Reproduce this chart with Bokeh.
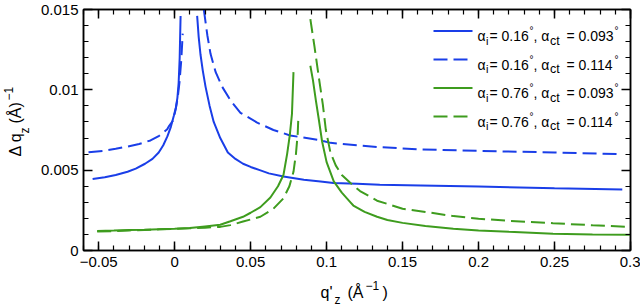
import math
from bokeh.plotting import figure
from bokeh.models import Range1d, FixedTicker, LinearAxis, Label
from bokeh.layouts import row, column
from bokeh.core.properties import value
from bokeh.embed import file_html
from bokeh.resources import INLINE

# ---------------- data ----------------
bs_l_x = [-0.054, -0.046, -0.0388, -0.031, -0.0256, -0.0195, -0.0146, -0.0105, -0.0075, -0.0048, -0.0025, -0.0005, 0.0008, 0.0018, 0.0026, 0.0033, 0.0039]
bs_l_y = [0.00445, 0.00456, 0.0047, 0.0049, 0.0051, 0.0054, 0.0057, 0.0061, 0.00655, 0.0071, 0.0077, 0.0084, 0.0089, 0.0095, 0.0104, 0.0120, 0.0146]
bs_r_x = [0.0148, 0.0158, 0.017, 0.0185, 0.0203, 0.023, 0.0257, 0.030, 0.035, 0.040, 0.045, 0.050, 0.056, 0.062, 0.0716, 0.085, 0.096, 0.1045, 0.12, 0.135, 0.162, 0.2, 0.25, 0.2946]
bs_r_y = [0.0146, 0.0133, 0.0122, 0.0112, 0.0102, 0.0090, 0.0080, 0.0070, 0.0061, 0.0057, 0.0054, 0.0052, 0.0050, 0.0048, 0.0046, 0.0044, 0.0043, 0.0042, 0.00415, 0.0041, 0.00405, 0.00398, 0.00388, 0.0038]

bd_l_x = [-0.0567, -0.0475, -0.0388, -0.031, -0.0234, -0.0159, -0.0102, -0.0049, -0.0036, -0.0010, 0.0007, 0.0020, 0.0032, 0.0043, 0.0053]
bd_l_y = [0.00612, 0.0062, 0.00633, 0.00647, 0.00663, 0.00685, 0.00714, 0.00755, 0.00776, 0.0081, 0.0088, 0.0095, 0.0105, 0.0118, 0.0135]
bd_r_x = [0.0192, 0.0215, 0.0236, 0.027, 0.0312, 0.037, 0.0433, 0.0543, 0.065, 0.076, 0.0959, 0.1025, 0.12, 0.135, 0.16, 0.2, 0.25, 0.293]
bd_r_y = [0.0150, 0.0134, 0.01224, 0.0111, 0.0102, 0.0093, 0.00857, 0.00796, 0.0075, 0.00716, 0.00686, 0.0067, 0.00655, 0.00643, 0.0063, 0.0062, 0.0061, 0.0060]

gs_l_x = [-0.051, -0.04, -0.03, -0.02, -0.01, 0.0, 0.01, 0.02, 0.03, 0.0367, 0.045, 0.05, 0.0564, 0.063, 0.068, 0.0716, 0.074, 0.0758, 0.0772, 0.0782]
gs_l_y = [0.00122, 0.00124, 0.00127, 0.00129, 0.00132, 0.00135, 0.0014, 0.0015, 0.0016, 0.00182, 0.0021, 0.00235, 0.0027, 0.0033, 0.0040, 0.0047, 0.0060, 0.0072, 0.0085, 0.0111]
gs_r_x = [0.0893, 0.091, 0.093, 0.0948, 0.097, 0.1, 0.1047, 0.11, 0.1157, 0.1176, 0.125, 0.1332, 0.14, 0.15, 0.165, 0.1834, 0.2, 0.22, 0.249, 0.275, 0.3]
gs_r_y = [0.0115, 0.0106, 0.0093, 0.0082, 0.0068, 0.0055, 0.0043, 0.0036, 0.0030, 0.0028, 0.0024, 0.0021, 0.0019, 0.00172, 0.00152, 0.00135, 0.00125, 0.00116, 0.00104, 0.0010, 0.00098]

gd_l_x = [-0.051, -0.04, -0.03, -0.02, -0.01, 0.0, 0.01, 0.02, 0.03, 0.0367, 0.045, 0.0564, 0.065, 0.0716, 0.0755, 0.0782, 0.0798, 0.081, 0.0814]
gd_l_y = [0.00118, 0.00121, 0.00125, 0.00128, 0.00132, 0.00135, 0.00138, 0.00142, 0.00147, 0.00158, 0.0018, 0.0021, 0.0026, 0.00325, 0.0040, 0.0049, 0.0060, 0.0073, 0.0083]
gd_r_x = [0.0893, 0.092, 0.095, 0.0975, 0.0995, 0.1025, 0.106, 0.11, 0.1157, 0.122, 0.1332, 0.14, 0.15, 0.165, 0.1834, 0.2, 0.22, 0.249, 0.275, 0.3]
gd_r_y = [0.0144, 0.0127, 0.0107, 0.0091, 0.0075, 0.0061, 0.0053, 0.0047, 0.0042, 0.0037, 0.0031, 0.0029, 0.0026, 0.0024, 0.00214, 0.00198, 0.00185, 0.0017, 0.00157, 0.00147]

alpha_i = ["0.16", "0.16", "0.76", "0.76"]
alpha_ct = ["0.093", "0.114", "0.093", "0.114"]

x_ticks = [-0.05, 0.0, 0.05, 0.1, 0.15, 0.2, 0.25, 0.3]
x_tick_labels = ["\u22120.05", "0", "0.05", "0.1", "0.15", "0.2", "0.25", "0.3"]
x_minor = [round(-0.06 + 0.01 * i, 3) for i in range(37)]
y_ticks = [0.0, 0.005, 0.01, 0.015]
y_tick_labels = ["0", "0.005", "0.01", "0.015"]
y_minor = [round(0.001 * i, 3) for i in range(16)]

BLUE = "#1a3ee8"
GREEN = "#3e9c1e"
DASH = "14 6"
FONT = "Liberation Sans"

# ---------------- layout ----------------
X0, X1, Y0, Y1 = -0.06, 0.3, 0.0, 0.015
LW_ = 30                    # left title strip width
MW, MH = 610, 275           # main figure size
BL, BR, BT, BB = 53, 10, 9, 25
BH = 305 - MH               # bottom title strip height
FL, FR = LW_ + BL, LW_ + MW - BR   # frame page x
FT, FB = BT, MH - BB               # frame page y

def dx(px):
    return X0 + (px - FL) / (FR - FL) * (X1 - X0)

def dy(py):
    return Y0 + (FB - py) / (FB - FT) * (Y1 - Y0)

p = figure(width=MW, height=MH, output_backend="svg", toolbar_location=None,
           x_range=Range1d(X0, X1), y_range=Range1d(Y0, Y1),
           min_border_left=BL, min_border_right=BR, min_border_top=BT, min_border_bottom=BB,
           background_fill_color="white", border_fill_color="white")
p.grid.visible = False
p.outline_line_color = "black"
p.outline_line_width = 1.5

def style_axis(ax, ticks, minor, labels, show):
    ax.ticker = FixedTicker(ticks=ticks, minor_ticks=minor)
    ax.major_tick_in = 9
    ax.major_tick_out = 0
    ax.minor_tick_in = 5
    ax.minor_tick_out = 0
    ax.axis_line_width = 1.5
    ax.major_tick_line_width = 1.5
    ax.minor_tick_line_width = 1.2
    ax.axis_line_color = "black"
    ax.major_tick_line_color = "black"
    ax.minor_tick_line_color = "black"
    ax.major_label_text_font = FONT
    ax.major_label_text_font_size = "15px"
    ax.major_label_text_color = "black"
    if show:
        ax.major_label_overrides = {t: l for t, l in zip(ticks, labels)}
    else:
        ax.major_label_overrides = {t: "" for t in ticks}
        ax.major_label_standoff = 0
    ax.axis_label = None

xa = p.xaxis[0]
ya = p.yaxis[0]
style_axis(xa, x_ticks, x_minor, x_tick_labels, True)
style_axis(ya, y_ticks, y_minor, y_tick_labels, True)
xa.major_label_standoff = 6
ya.major_label_standoff = 5

top = LinearAxis()
right = LinearAxis()
style_axis(top, x_ticks, x_minor, x_tick_labels, False)
style_axis(right, y_ticks, y_minor, y_tick_labels, False)
p.add_layout(top, "above")
p.add_layout(right, "right")

# ---------------- curves ----------------
lw = 2
p.line(bs_l_x, bs_l_y, color=BLUE, line_width=lw)
p.line(bs_r_x, bs_r_y, color=BLUE, line_width=lw)
p.line(bd_l_x, bd_l_y, color=BLUE, line_width=lw, line_dash=DASH)
p.line(bd_r_x, bd_r_y, color=BLUE, line_width=lw, line_dash=DASH)
p.line(gs_l_x, gs_l_y, color=GREEN, line_width=lw)
p.line(gs_r_x, gs_r_y, color=GREEN, line_width=lw)
p.line(gd_l_x, gd_l_y, color=GREEN, line_width=lw, line_dash=DASH)
p.line(gd_r_x, gd_r_y, color=GREEN, line_width=lw, line_dash=DASH)

# ---------------- legend (manual, for sub/superscripts) ----------------
def lab(px, py, text, size):
    p.add_layout(Label(x=dx(px), y=dy(py), text=text, x_units="data", y_units="data",
                       text_font=FONT, text_font_size=f"{size}px", text_color="black",
                       text_align="left", text_baseline="alphabetic"))

row_c = [30.5, 59.0, 87.5, 116.0]
colors = [BLUE, BLUE, GREEN, GREEN]
dashes = ["solid", DASH, "solid", DASH]
for k in range(4):
    yc = row_c[k]
    p.line([dx(433), dx(472)], [dy(yc), dy(yc)], color=colors[k], line_width=lw, line_dash=dashes[k])
    b = yc + 5
    lab(477, b, "\u03b1", 14)
    lab(485.5, b + 4.5, "i", 11)
    lab(489, b, "= " + alpha_i[k], 14)
    lab(529, b - 5.5, "\u00b0", 10)
    lab(533, b, ", \u03b1", 14)
    lab(549.5, b + 4.5, "ct", 12.5)
    lab(566, b, "= " + alpha_ct[k], 14)
    lab(614, b - 5.5, "\u00b0", 10)

# ---------------- title strips ----------------
def strip(w, h):
    f = figure(width=w, height=h, output_backend="svg", toolbar_location=None,
               x_range=Range1d(0, w), y_range=Range1d(0, h),
               x_axis_location=None, y_axis_location=None,
               min_border=0, min_border_left=0, min_border_right=0,
               min_border_top=0, min_border_bottom=0,
               background_fill_color="white", border_fill_color="white")
    f.grid.visible = False
    f.outline_line_color = None
    return f

def txt(f, h, x, py, s, size, angle=0.0, align="left", base="alphabetic"):
    f.text(x=[x], y=[h - py], text=[s], angle=angle, text_font=value(FONT),
           text_font_size=f"{size}px", text_color="black",
           text_align=align, text_baseline=base)

left = strip(LW_, MH)
A = math.pi / 2
txt(left, MH, 15, 154, "\u0394 q", 16, A, "center", "middle")
txt(left, MH, 24, 138, "z", 12, A, "center", "middle")
txt(left, MH, 15, 118, "(\u00c5)", 16, A, "center", "middle")
txt(left, MH, 8, 96, "\u22121", 12, A, "center", "middle")

bottom = strip(LW_ + MW, BH)
txt(bottom, BH, 320, 292 - MH, "q'", 16)
txt(bottom, BH, 334, 299 - MH, "z", 12)
txt(bottom, BH, 347, 292 - MH, "(\u00c5", 16)
txt(bottom, BH, 365, 285 - MH, "\u22121", 12)
txt(bottom, BH, 382, 292 - MH, ")", 16)

layout = column(row(left, p, spacing=0), bottom, spacing=0)
open("out.html", "w").write(file_html(layout, INLINE))
